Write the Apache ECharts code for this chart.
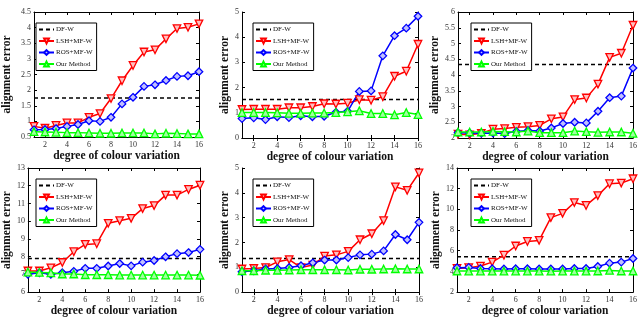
<!DOCTYPE html>
<html>
<head>
<meta charset="utf-8">
<script src="https://cdn.jsdelivr.net/npm/echarts@6/dist/echarts.min.js"></script>
<style>html,body{margin:0;padding:0;background:#fff;}#c{width:640px;height:318px;}</style>
</head>
<body>
<div id="c"></div>
<script>
const xValues = [1,2,3,4,5,6,7,8,9,10,11,12,13,14,15,16];
const xTickLabels = [2,4,6,8,10,12,14,16];
const seriesNames = ['DF-W','LSH+MF-W','ROS+MF-W','Our Method'];

// Panel 1 (top-left)
const dfw1 = 1.75;
const lsh1 = [0.84,0.78,0.87,0.95,0.95,1.13,1.25,1.73,2.30,2.79,3.22,3.29,3.64,3.97,4.01,4.12];
const ros1 = [0.73,0.74,0.77,0.84,0.90,1.02,1.00,1.13,1.56,1.77,2.12,2.17,2.31,2.44,2.46,2.59];
const our1 = [0.67,0.66,0.65,0.64,0.64,0.63,0.62,0.62,0.63,0.63,0.63,0.60,0.62,0.61,0.60,0.60];
// Panel 2 (top-middle)
const dfw2 = 1.53;
const lsh2 = [1.13,1.14,1.14,1.14,1.20,1.20,1.25,1.36,1.35,1.38,1.52,1.50,1.64,2.45,2.65,3.72];
const ros2 = [0.77,0.80,0.73,0.84,0.81,0.88,0.84,0.86,1.02,1.06,1.85,1.87,3.26,4.06,4.36,4.83];
const our2 = [1.01,1.01,1.01,1.00,0.98,0.98,0.99,0.99,1.01,1.04,1.08,0.97,0.97,0.92,1.01,0.93];
// Panel 3 (top-right)
const dfw3 = 4.33;
const lsh3 = [2.12,2.10,2.15,2.28,2.30,2.34,2.36,2.40,2.61,2.67,3.22,3.27,3.71,4.56,4.69,5.58];
const ros3 = [2.17,2.16,2.15,2.16,2.14,2.21,2.24,2.22,2.32,2.46,2.50,2.48,2.85,3.28,3.33,4.22];
const our3 = [2.19,2.19,2.19,2.21,2.20,2.19,2.22,2.17,2.17,2.17,2.22,2.20,2.18,2.19,2.19,2.15];
// Panel 4 (bottom-left)
const dfw4 = 7.89;
const lsh4 = [7.19,7.19,7.37,7.67,8.28,8.69,8.73,9.88,10.03,10.16,10.71,10.88,11.47,11.47,11.79,12.03];
const ros4 = [7.00,7.09,7.00,7.09,7.17,7.34,7.34,7.47,7.61,7.48,7.69,7.78,7.99,8.17,8.23,8.41];
const our4 = [7.13,7.11,7.09,7.02,7.02,6.98,6.98,6.98,6.96,6.96,6.96,6.96,6.96,6.96,6.96,6.95];
// Panel 5 (bottom-middle)
const dfw5 = 1.35;
const lsh5 = [0.93,0.95,0.99,1.22,1.31,0.99,1.09,1.45,1.50,1.64,2.11,2.35,2.88,4.24,4.10,4.80];
const ros5 = [0.82,0.86,0.93,0.95,0.99,1.06,1.18,1.29,1.29,1.39,1.50,1.53,1.66,2.32,2.11,2.81];
const our5 = [0.86,0.86,0.88,0.88,0.89,0.90,0.90,0.90,0.90,0.89,0.92,0.92,0.93,0.94,0.93,0.93];
// Panel 6 (bottom-right)
const dfw6 = 5.41;
const lsh6 = [4.29,4.36,4.52,4.90,5.57,6.46,6.90,7.00,9.20,9.61,10.66,10.38,11.33,12.48,12.54,12.96];
const ros6 = [4.36,4.39,4.29,4.26,4.23,4.26,4.26,4.23,4.23,4.23,4.29,4.29,4.48,4.80,4.90,5.25];
const our6 = [4.04,4.03,4.03,4.03,4.03,4.03,4.03,4.03,4.02,4.03,4.03,4.03,4.04,4.10,4.04,4.04];

// y axis ranges and tick steps
const yMins = [0.5, 0, 2, 6, 0, 2];
const yMaxs = [4.5, 5, 6, 13, 5, 14];
const ySteps = [0.5, 1, 0.5, 1, 1, 2];

const panels = [
  {dfw: dfw1, lsh: lsh1, ros: ros1, our: our1},
  {dfw: dfw2, lsh: lsh2, ros: ros2, our: our2},
  {dfw: dfw3, lsh: lsh3, ros: ros3, our: our3},
  {dfw: dfw4, lsh: lsh4, ros: ros4, our: our4},
  {dfw: dfw5, lsh: lsh5, ros: ros5, our: our5},
  {dfw: dfw6, lsh: lsh6, ros: ros6, our: our6}
];

// layout (styles, not data)
const grids = [
  {left: 32, top: 12, width: 167, height: 125},
  {left: 242, top: 12, width: 176, height: 126},
  {left: 458, top: 12, width: 176, height: 126},
  {left: 22, top: 168, width: 178, height: 126},
  {left: 242, top: 168, width: 177, height: 126},
  {left: 457, top: 168, width: 178, height: 126}
];
const legendPos = [
  {left: 36, top: 23}, {left: 253, top: 23}, {left: 471, top: 23},
  {left: 36, top: 179}, {left: 253, top: 179}, {left: 471, top: 179}
];
const yNameGaps = [21, 10, 11, 14, 10, 10];

const FONT = 'Liberation Serif';
const RED = '#ff0000', BLUE = '#0000ff', GREEN = '#00ff00';

const xAxes = [], yAxes = [], series = [], legends = [];
const tickLen = 3;
const pairs = v => xValues.map((x, i) => [x, Array.isArray(v) ? v[i] : v]);

panels.forEach((p, g) => {
  const axisLine = {show: true, lineStyle: {color: '#000', width: 1}};
  xAxes.push({
    type: 'value', gridIndex: g, min: 1, max: 16, position: 'bottom',
    axisLine, splitLine: {show: false},
    axisTick: {inside: true, length: tickLen, customValues: xTickLabels, lineStyle: {color: '#000'}},
    axisLabel: {customValues: xTickLabels, fontFamily: FONT, fontSize: 8, color: '#333', margin: 4},
    name: 'degree of colour variation', nameLocation: 'middle', nameGap: 12,
    nameTextStyle: {fontFamily: FONT, fontSize: 11.5, fontWeight: 'bold', color: '#111', verticalAlign: 'top'}
  });
  xAxes.push({
    type: 'value', gridIndex: g, min: 1, max: 16, position: 'top',
    axisLine, splitLine: {show: false},
    axisTick: {inside: true, length: tickLen, customValues: xTickLabels, lineStyle: {color: '#000'}},
    axisLabel: {show: false}
  });
  yAxes.push({
    type: 'value', gridIndex: g, min: yMins[g], max: yMaxs[g], interval: ySteps[g], position: 'left',
    axisLine, splitLine: {show: false},
    axisTick: {inside: true, length: tickLen, lineStyle: {color: '#000'}},
    axisLabel: {fontFamily: FONT, fontSize: 8, color: '#333', margin: 3},
    name: 'alignment error', nameLocation: 'middle', nameGap: yNameGaps[g],
    nameTextStyle: {fontFamily: FONT, fontSize: 11.5, fontWeight: 'bold', color: '#111'}
  });
  yAxes.push({
    type: 'value', gridIndex: g, min: yMins[g], max: yMaxs[g], interval: ySteps[g], position: 'right',
    axisLine, splitLine: {show: false},
    axisTick: {inside: true, length: tickLen, lineStyle: {color: '#000'}},
    axisLabel: {show: false}
  });
  const xi = g * 2, yi = g * 2;
  series.push({
    name: 'DF-W', type: 'line', xAxisIndex: xi, yAxisIndex: yi, data: pairs(p.dfw),
    symbol: 'none', lineStyle: {color: '#000', width: 1.5, type: [4, 3]}, itemStyle: {color: '#000'},
    silent: true, animation: false, z: 2
  });
  series.push({
    name: 'LSH+MF-W', type: 'line', xAxisIndex: xi, yAxisIndex: yi, data: pairs(p.lsh),
    symbol: 'triangle', symbolRotate: 180, symbolSize: 7.5,
    lineStyle: {color: RED, width: 1.5},
    itemStyle: {color: '#ffc0c0', borderColor: RED, borderWidth: 1.3},
    animation: false, z: 3
  });
  series.push({
    name: 'ROS+MF-W', type: 'line', xAxisIndex: xi, yAxisIndex: yi, data: pairs(p.ros),
    symbol: 'diamond', symbolSize: 7.5,
    lineStyle: {color: BLUE, width: 1.5},
    itemStyle: {color: '#c0c0ff', borderColor: BLUE, borderWidth: 1.3},
    animation: false, z: 3
  });
  series.push({
    name: 'Our Method', type: 'line', xAxisIndex: xi, yAxisIndex: yi, data: pairs(p.our),
    symbol: 'triangle', symbolSize: 7.5,
    lineStyle: {color: GREEN, width: 1.5},
    itemStyle: {color: '#a0ffa0', borderColor: GREEN, borderWidth: 1.3},
    animation: false, z: 4
  });
  legends.push({
    left: legendPos[g].left, top: legendPos[g].top, orient: 'vertical',
    data: [
      {name: seriesNames[0], itemStyle: {color: 'rgba(0,0,0,0)', borderWidth: 0, opacity: 0}},
      seriesNames[1], seriesNames[2], seriesNames[3]
    ],
    selectedMode: false,
    itemWidth: 15, itemHeight: 6, itemGap: 4.5,
    padding: [3, 4, 3, 2], borderColor: '#000', borderWidth: 1, backgroundColor: '#fff',
    textStyle: {fontFamily: FONT, fontSize: 7, color: '#111', padding: [0, 0, 0, -3]}
  });
});

const chart = echarts.init(document.getElementById('c'), null, {renderer: 'canvas'});
chart.setOption({
  animation: false,
  backgroundColor: '#fff',
  grid: grids,
  xAxis: xAxes,
  yAxis: yAxes,
  legend: legends,
  series: series
});
</script>
</body>
</html>
